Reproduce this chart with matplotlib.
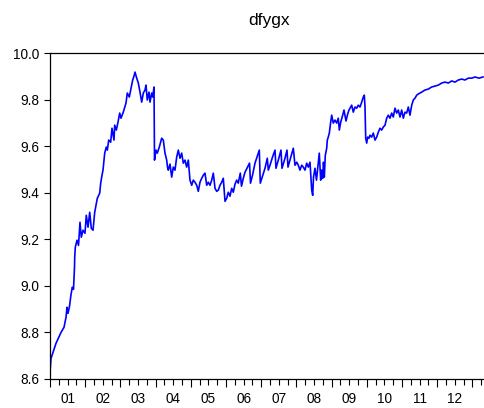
import matplotlib
matplotlib.use("Agg")
import matplotlib.pyplot as plt
from matplotlib.ticker import FixedLocator, FixedFormatter, NullFormatter

plt.rcParams["font.family"] = ["Liberation Sans", "DejaVu Sans"]

# Time in decimal years, series level
t = [
    2001.000, 2001.028, 2001.170, 2001.313, 2001.398, 2001.455, 2001.483, 2001.511, 2001.554, 2001.597,
    2001.634, 2001.668, 2001.696, 2001.702, 2001.719, 2001.767, 2001.810, 2001.852, 2001.889, 2001.938,
    2001.994, 2002.031, 2002.080, 2002.128, 2002.173, 2002.222, 2002.270, 2002.344, 2002.412, 2002.440,
    2002.477, 2002.506, 2002.554, 2002.599, 2002.628, 2002.668, 2002.724, 2002.761, 2002.818, 2002.838,
    2002.884, 2002.932, 2002.980, 2003.017, 2003.082, 2003.159, 2003.196, 2003.253, 2003.293, 2003.349,
    2003.386, 2003.415, 2003.463, 2003.509, 2003.557, 2003.605, 2003.651, 2003.699, 2003.727, 2003.764,
    2003.813, 2003.841, 2003.889, 2003.918, 2003.955, 2003.969, 2004.011, 2004.048, 2004.105, 2004.173,
    2004.219, 2004.267, 2004.315, 2004.338, 2004.361, 2004.409, 2004.457, 2004.503, 2004.551, 2004.599,
    2004.645, 2004.693, 2004.741, 2004.787, 2004.835, 2004.883, 2004.929, 2004.977, 2005.026, 2005.071,
    2005.119, 2005.168, 2005.213, 2005.261, 2005.310, 2005.355, 2005.403, 2005.452, 2005.497, 2005.545,
    2005.594, 2005.639, 2005.688, 2005.736, 2005.781, 2005.830, 2005.878, 2005.923, 2005.972, 2006.020,
    2006.065, 2006.114, 2006.162, 2006.207, 2006.256, 2006.304, 2006.349, 2006.406, 2006.440, 2006.491,
    2006.540, 2006.597, 2006.668, 2006.696, 2006.753, 2006.824, 2006.889, 2006.946, 2006.974, 2007.037,
    2007.108, 2007.173, 2007.202, 2007.250, 2007.321, 2007.392, 2007.420, 2007.486, 2007.562, 2007.591,
    2007.676, 2007.733, 2007.761, 2007.818, 2007.912, 2007.960, 2008.009, 2008.054, 2008.102, 2008.151,
    2008.196, 2008.244, 2008.293, 2008.338, 2008.386, 2008.435, 2008.463, 2008.486, 2008.528, 2008.571,
    2008.622, 2008.650, 2008.690, 2008.718, 2008.747, 2008.770, 2008.793, 2008.821, 2008.861, 2008.878,
    2008.906, 2008.935, 2008.974, 2009.003, 2009.048, 2009.097, 2009.145, 2009.190, 2009.219, 2009.259,
    2009.315, 2009.352, 2009.409, 2009.457, 2009.494, 2009.571, 2009.616, 2009.665, 2009.713, 2009.758,
    2009.807, 2009.855, 2009.901, 2009.929, 2009.949, 2009.969, 2009.997, 2010.026, 2010.063, 2010.091,
    2010.139, 2010.185, 2010.233, 2010.281, 2010.327, 2010.375, 2010.423, 2010.469, 2010.517, 2010.565,
    2010.611, 2010.659, 2010.707, 2010.753, 2010.801, 2010.849, 2010.895, 2010.943, 2010.991, 2011.037,
    2011.085, 2011.133, 2011.179, 2011.227, 2011.276, 2011.321, 2011.369, 2011.418, 2011.463, 2011.559,
    2011.653, 2011.747, 2011.844, 2011.938, 2012.031, 2012.128, 2012.222, 2012.315, 2012.412, 2012.506,
    2012.599, 2012.696, 2012.790, 2012.883, 2012.980, 2013.074, 2013.188, 2013.301,
]

dfygx = [
    8.628, 8.688, 8.753, 8.800, 8.822, 8.865, 8.908, 8.882, 8.912, 8.963,
    8.994, 8.985, 9.080, 9.123, 9.166, 9.196, 9.174, 9.273, 9.209, 9.239,
    9.226, 9.303, 9.252, 9.316, 9.247, 9.239, 9.316, 9.376, 9.398, 9.441,
    9.475, 9.497, 9.570, 9.596, 9.583, 9.626, 9.617, 9.677, 9.626, 9.690,
    9.669, 9.703, 9.742, 9.720, 9.746, 9.785, 9.828, 9.811, 9.841, 9.884,
    9.901, 9.918, 9.892, 9.871, 9.832, 9.789, 9.828, 9.841, 9.862, 9.798,
    9.832, 9.789, 9.828, 9.811, 9.854, 9.540, 9.583, 9.570, 9.596, 9.634,
    9.626, 9.570, 9.540, 9.510, 9.497, 9.523, 9.467, 9.510, 9.497, 9.553,
    9.583, 9.548, 9.570, 9.527, 9.540, 9.510, 9.540, 9.454, 9.432, 9.454,
    9.445, 9.432, 9.406, 9.445, 9.462, 9.475, 9.484, 9.432, 9.445, 9.432,
    9.454, 9.484, 9.419, 9.406, 9.411, 9.432, 9.445, 9.462, 9.363, 9.376,
    9.402, 9.385, 9.419, 9.402, 9.437, 9.454, 9.441, 9.484, 9.428, 9.462,
    9.488, 9.505, 9.527, 9.441, 9.475, 9.527, 9.557, 9.583, 9.441, 9.471,
    9.505, 9.548, 9.497, 9.518, 9.553, 9.583, 9.505, 9.540, 9.583, 9.505,
    9.548, 9.583, 9.510, 9.540, 9.591, 9.518, 9.531, 9.518, 9.497, 9.518,
    9.510, 9.497, 9.527, 9.510, 9.531, 9.411, 9.389, 9.467, 9.505, 9.454,
    9.527, 9.570, 9.454, 9.497, 9.462, 9.531, 9.467, 9.561, 9.591, 9.626,
    9.639, 9.656, 9.703, 9.733, 9.699, 9.712, 9.699, 9.720, 9.669, 9.703,
    9.733, 9.755, 9.708, 9.738, 9.755, 9.776, 9.746, 9.768, 9.763, 9.776,
    9.768, 9.789, 9.811, 9.819, 9.768, 9.634, 9.613, 9.639, 9.634, 9.647,
    9.639, 9.656, 9.626, 9.639, 9.660, 9.677, 9.669, 9.682, 9.690, 9.720,
    9.733, 9.720, 9.742, 9.725, 9.763, 9.742, 9.755, 9.725, 9.755, 9.720,
    9.746, 9.742, 9.768, 9.733, 9.776, 9.798, 9.806, 9.819, 9.824, 9.832,
    9.841, 9.845, 9.854, 9.858, 9.862, 9.871, 9.875, 9.871, 9.880, 9.875,
    9.884, 9.888, 9.884, 9.892, 9.892, 9.897, 9.892, 9.897,
]

years = list(range(2001, 2014))
year_labels = ["01", "02", "03", "04", "05", "06", "07", "08", "09", "10", "11", "12"]
y_ticks = [8.6, 8.8, 9.0, 9.2, 9.4, 9.6, 9.8, 10.0]

W, H = 484, 408
fig = plt.figure(figsize=(W / 100, H / 100), dpi=100)
ax = fig.add_axes([50 / W, 29 / H, 438 / W, 326 / H])

ax.plot(t, dfygx, color="#0000ff", lw=1.2)

ax.set_xlim(2001.0, 2001.0 + 438 / 35.2)
ax.set_ylim(8.6, 10.0)

# y axis
ax.set_yticks(y_ticks)
ax.set_yticklabels([f"{v:.1f}" for v in y_ticks])
ax.tick_params(axis="y", direction="out", length=4.5, width=0.8, pad=3.0,
               labelsize=9.8, colors="black")

# x axis: year boundaries as long ticks, quarters as short ticks,
# with the two-digit year written at mid-year
ax.xaxis.set_major_locator(FixedLocator(years))
ax.xaxis.set_major_formatter(NullFormatter())
quarters = []
qlabels = []
for y in years:
    for q in (0.25, 0.5, 0.75):
        quarters.append(y + q)
        if q == 0.5 and y - 2001 < len(year_labels):
            qlabels.append(year_labels[y - 2001])
        else:
            qlabels.append("")
ax.xaxis.set_minor_locator(FixedLocator(quarters))
ax.xaxis.set_minor_formatter(FixedFormatter(qlabels))
ax.tick_params(axis="x", which="major", direction="out", length=6, width=0.8)
ax.tick_params(axis="x", which="minor", direction="out", length=4, width=0.8,
               pad=5.5, labelsize=9.8)

for s in ("left", "top", "bottom"):
    ax.spines[s].set_linewidth(0.9)
    ax.spines[s].set_color("black")
ax.spines["right"].set_visible(False)

fig.text((50 + 488) / 2 / W, 1 - 20 / H, "dfygx", ha="center", va="center", fontsize=12.5)

fig.savefig("out.png", dpi=100)
